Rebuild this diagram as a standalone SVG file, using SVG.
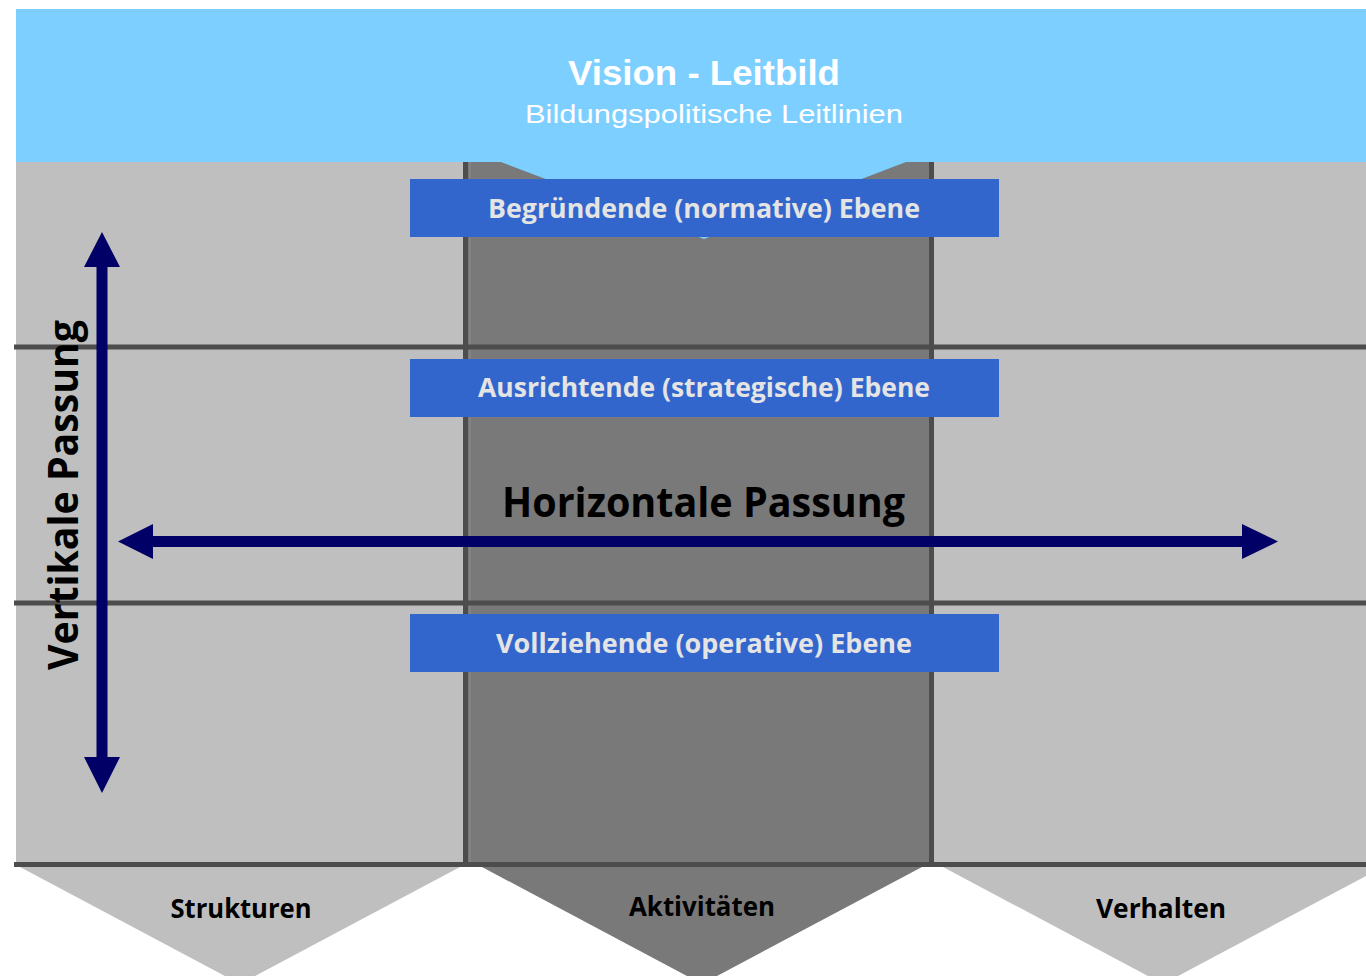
<svg xmlns="http://www.w3.org/2000/svg" width="1366" height="976" viewBox="0 0 1366 976">
  <style>
    .bg { fill: #bfbfbf; }
    .col { fill: #797979; }
    .rule { stroke: #4d4d4d; stroke-width: 5; fill: none; }
    .banner { fill: #7dcfff; }
    .level { fill: #3366cc; }
    .level-text { font-family: "Open Sans", "DejaVu Sans", sans-serif; font-weight: bold; font-size: 26px; fill: #e4e4e4; text-anchor: middle; }
    .pillar-light { fill: #bfbfbf; }
    .pillar-dark { fill: #797979; }
    .pillar-text { font-family: "Open Sans", "DejaVu Sans", sans-serif; font-weight: bold; font-size: 26px; fill: #000; text-anchor: middle; }
    .axis-text { font-family: "Open Sans", "DejaVu Sans", sans-serif; font-weight: bold; font-size: 42px; fill: #000; text-anchor: middle; }
    .arrow { fill: #000066; }
  </style>

  <rect width="1366" height="976" fill="#ffffff"/>

  <!-- grey field and central column -->
  <g id="field">
    <rect class="bg" x="16" y="162" width="1350" height="703"/>
    <rect class="col" x="465" y="162" width="466" height="703"/>
    <line class="rule" x1="465.5" y1="162" x2="465.5" y2="865"/>
    <line x1="470" y1="162" x2="470" y2="865" stroke="#8c8c8c" stroke-width="1"/>
    <line class="rule" x1="931.5" y1="162" x2="931.5" y2="865"/>
    <line class="rule" x1="14" y1="347" x2="1366" y2="347"/>
    <line class="rule" x1="14" y1="603" x2="1366" y2="603"/>
    <line class="rule" x1="14" y1="864.5" x2="1366" y2="864.5"/>
  </g>

  <!-- vision banner -->
  <g id="vision">
    <path class="banner" d="M16 9 H1366 V162 H906 L704 239 L501 162 H16 Z"/>
    <text x="704" y="85" font-family="'Liberation Sans', Arial, sans-serif" font-weight="bold" font-size="35" fill="#ffffff" text-anchor="middle" textLength="272" lengthAdjust="spacingAndGlyphs">Vision - Leitbild</text>
    <text x="714" y="123" font-family="'Liberation Sans', Arial, sans-serif" font-size="26" fill="#ffffff" text-anchor="middle" textLength="378" lengthAdjust="spacingAndGlyphs">Bildungspolitische Leitlinien</text>
  </g>

  <!-- levels -->
  <g id="level-normative">
    <rect class="level" x="410" y="179" width="589" height="58"/>
    <text class="level-text" x="704" y="218" textLength="432" lengthAdjust="spacingAndGlyphs">Begründende (normative) Ebene</text>
  </g>
  <g id="level-strategic">
    <rect class="level" x="410" y="359" width="589" height="58"/>
    <text class="level-text" x="704" y="397" textLength="452" lengthAdjust="spacingAndGlyphs">Ausrichtende (strategische) Ebene</text>
  </g>
  <g id="level-operative">
    <rect class="level" x="410" y="614" width="589" height="58"/>
    <text class="level-text" x="704" y="653" textLength="416" lengthAdjust="spacingAndGlyphs">Vollziehende (operative) Ebene</text>
  </g>

  <!-- pillars -->
  <g id="pillar-strukturen">
    <polygon class="pillar-light" points="20,867 460,867 240,984"/>
    <text class="pillar-text" x="241" y="918" textLength="141" lengthAdjust="spacingAndGlyphs">Strukturen</text>
  </g>
  <g id="pillar-aktivitaeten">
    <polygon class="pillar-dark" points="482,867 922,867 702,984"/>
    <text class="pillar-text" x="702" y="916" textLength="146" lengthAdjust="spacingAndGlyphs">Aktivitäten</text>
  </g>
  <g id="pillar-verhalten">
    <polygon class="pillar-light" points="943,867 1383,867 1163,984"/>
    <text class="pillar-text" x="1161" y="918" textLength="130" lengthAdjust="spacingAndGlyphs">Verhalten</text>
  </g>

  <!-- fit axes -->
  <g id="connectors">
    <polygon class="arrow" points="102,232 120,267 107.5,267 107.5,757 120,757 102,793 84,757 96.5,757 96.5,267 84,267"/>
    <polygon class="arrow" points="118,541.5 153,524 153,536 1242,536 1242,524 1278,541.5 1242,559 1242,547 153,547 153,559"/>
  </g>

  <g id="label-horizontal">
    <text class="axis-text" x="703.5" y="517" textLength="403" lengthAdjust="spacingAndGlyphs">Horizontale Passung</text>
  </g>
  <g id="label-vertical">
    <text class="axis-text" transform="translate(78 495) rotate(-90)" x="0" y="0" textLength="350" lengthAdjust="spacingAndGlyphs">Vertikale Passung</text>
  </g>
</svg>
